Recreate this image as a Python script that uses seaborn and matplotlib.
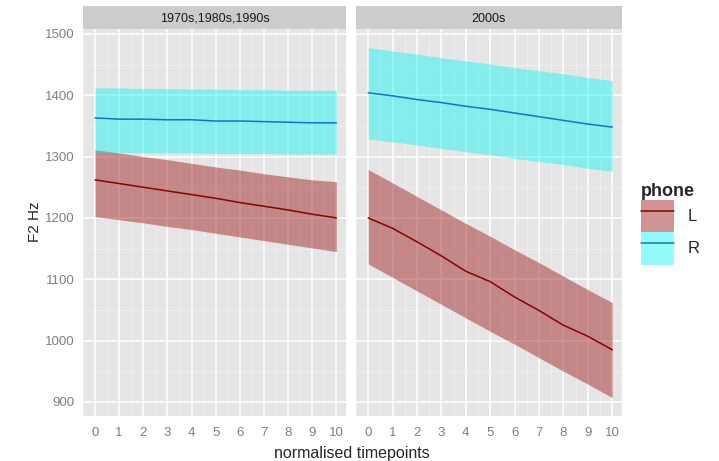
import numpy as np
import pandas as pd
import matplotlib
matplotlib.use("Agg")
import matplotlib.pyplot as plt
import seaborn as sns
from matplotlib.patches import Patch
from matplotlib.lines import Line2D
from matplotlib.legend_handler import HandlerTuple

# values
timepoints = list(range(11))
decades = ["1970s,1980s,1990s", "2000s"]
phones = ["L", "R"]

early_L_mean = [1262, 1256, 1250, 1244, 1238, 1232, 1225, 1219, 1213, 1206, 1200]
early_L_hi = [1311, 1306, 1300, 1295, 1289, 1283, 1278, 1272, 1267, 1262, 1259]
early_L_lo = [1202, 1197, 1192, 1186, 1181, 1175, 1169, 1163, 1157, 1151, 1145]

early_R_mean = [1363, 1361, 1361, 1360, 1360, 1358, 1358, 1357, 1356, 1355, 1355]
early_R_hi = [1412, 1412, 1411, 1411, 1410, 1410, 1409, 1409, 1408, 1408, 1408]
early_R_lo = [1307, 1307, 1306, 1306, 1306, 1305, 1305, 1305, 1304, 1304, 1304]

late_L_mean = [1200, 1183, 1161, 1138, 1113, 1096, 1071, 1049, 1025, 1007, 985]
late_L_hi = [1279, 1257, 1235, 1213, 1191, 1170, 1148, 1127, 1105, 1083, 1062]
late_L_lo = [1125, 1103, 1081, 1059, 1037, 1015, 994, 972, 950, 929, 907]

late_R_mean = [1404, 1399, 1393, 1388, 1382, 1377, 1371, 1365, 1359, 1353, 1348]
late_R_hi = [1478, 1472, 1467, 1461, 1456, 1451, 1445, 1440, 1435, 1429, 1424]
late_R_lo = [1329, 1324, 1319, 1313, 1308, 1303, 1297, 1292, 1287, 1281, 1276]

y_ticks = [900, 1000, 1100, 1200, 1300, 1400, 1500]

series = {
    (decades[0], "L"): (early_L_mean, early_L_lo, early_L_hi),
    (decades[0], "R"): (early_R_mean, early_R_lo, early_R_hi),
    (decades[1], "L"): (late_L_mean, late_L_lo, late_L_hi),
    (decades[1], "R"): (late_R_mean, late_R_lo, late_R_hi),
}
rows = []
for (dec, ph), (m, lo, hi) in series.items():
    for t, a, b, c in zip(timepoints, m, lo, hi):
        rows.append({"decade": dec, "phone": ph, "t": t, "F2": a, "lo": b, "hi": c})
df = pd.DataFrame(rows)

line_col = {"L": "#8b0000", "R": "#1c6fc9"}
fill_col = {"L": "#a52a2a", "R": "#00f5f5"}
fill_alpha = {"L": 0.5, "R": 0.42}

sns.set_style("white")
plt.rcParams["font.family"] = ["Arial", "Liberation Sans", "DejaVu Sans"]

fig = plt.figure(figsize=(7.19, 4.61), dpi=100)
W, H = 719, 461
panel_x = [(83, 346), (356, 622)]
ptop, pbot = 29, 416

tick_grey = "#7f7f7f"
for i, dec in enumerate(decades):
    x0, x1 = panel_x[i]
    ax = fig.add_axes([x0 / W, 1 - pbot / H, (x1 - x0) / W, (pbot - ptop) / H])
    ax.set_facecolor("#e5e5e5")
    sub = df[df.decade == dec]
    for ph in phones:
        d = sub[sub.phone == ph]
        ax.fill_between(d.t, d.lo, d.hi, color=fill_col[ph], alpha=fill_alpha[ph],
                        linewidth=0, zorder=2)
    sns.lineplot(data=sub, x="t", y="F2", hue="phone", palette=line_col,
                 ax=ax, legend=False, linewidth=1.1, zorder=3)
    ax.set_xticks(timepoints)
    ax.set_xticks(np.arange(-0.5, 10.5, 0.5), minor=True)
    ax.set_yticks(y_ticks)
    ax.set_yticks(np.arange(850, 1550, 50), minor=True)
    ax.set_xlim(-0.5, 10.4)
    ax.set_ylim(877, 1508)
    ax.grid(True, which="major", color="white", linewidth=1.1, zorder=1)
    ax.grid(True, which="minor", color="#f2f2f2", linewidth=0.5, zorder=1)
    ax.set_axisbelow(True)
    for s in ax.spines.values():
        s.set_visible(False)
    ax.tick_params(axis="x", which="major", direction="out", length=4, color=tick_grey,
                   labelcolor=tick_grey, labelsize=9.5, pad=4)
    ax.tick_params(which="minor", length=0)
    if i == 0:
        ax.tick_params(axis="y", which="major", direction="out", length=4, color=tick_grey,
                       labelcolor=tick_grey, labelsize=9.5, pad=2)
    else:
        ax.tick_params(axis="y", which="major", length=0, labelleft=False)
    ax.set_xlabel("")
    ax.set_ylabel("")

    strip = fig.add_axes([x0 / W, 1 - ptop / H, (x1 - x0) / W, 23 / H])
    strip.set_facecolor("#cccccc")
    strip.set_xticks([])
    strip.set_yticks([])
    for s in strip.spines.values():
        s.set_visible(False)
    strip.text(0.5, 0.45, dec, ha="center", va="center", fontsize=9, color="#1a1a1a")

fig.text(352 / W, 1 - 453 / H, "normalised timepoints", ha="center", va="center", fontsize=11.5)
fig.text(35 / W, 1 - 222 / H, "F2 Hz", ha="center", va="center", rotation=90, fontsize=11)

handles = []
for ph in phones:
    handles.append((Patch(facecolor=fill_col[ph], alpha=fill_alpha[ph], edgecolor="none"),
                    Line2D([], [], color=line_col[ph], linewidth=1.1)))
leg = fig.legend(handles, phones, title="phone", loc="upper left",
                 bbox_to_anchor=(626 / W, 1 - 168 / H), frameon=False,
                 handler_map={tuple: HandlerTuple(ndivide=1)},
                 handlelength=2.0, handleheight=2.6, handletextpad=0.8,
                 labelspacing=0.0, fontsize=12)
leg.get_title().set_fontweight("bold")
leg.get_title().set_fontsize(13)
leg._legend_box.align = "left"

fig.savefig("out.png", dpi=100)
